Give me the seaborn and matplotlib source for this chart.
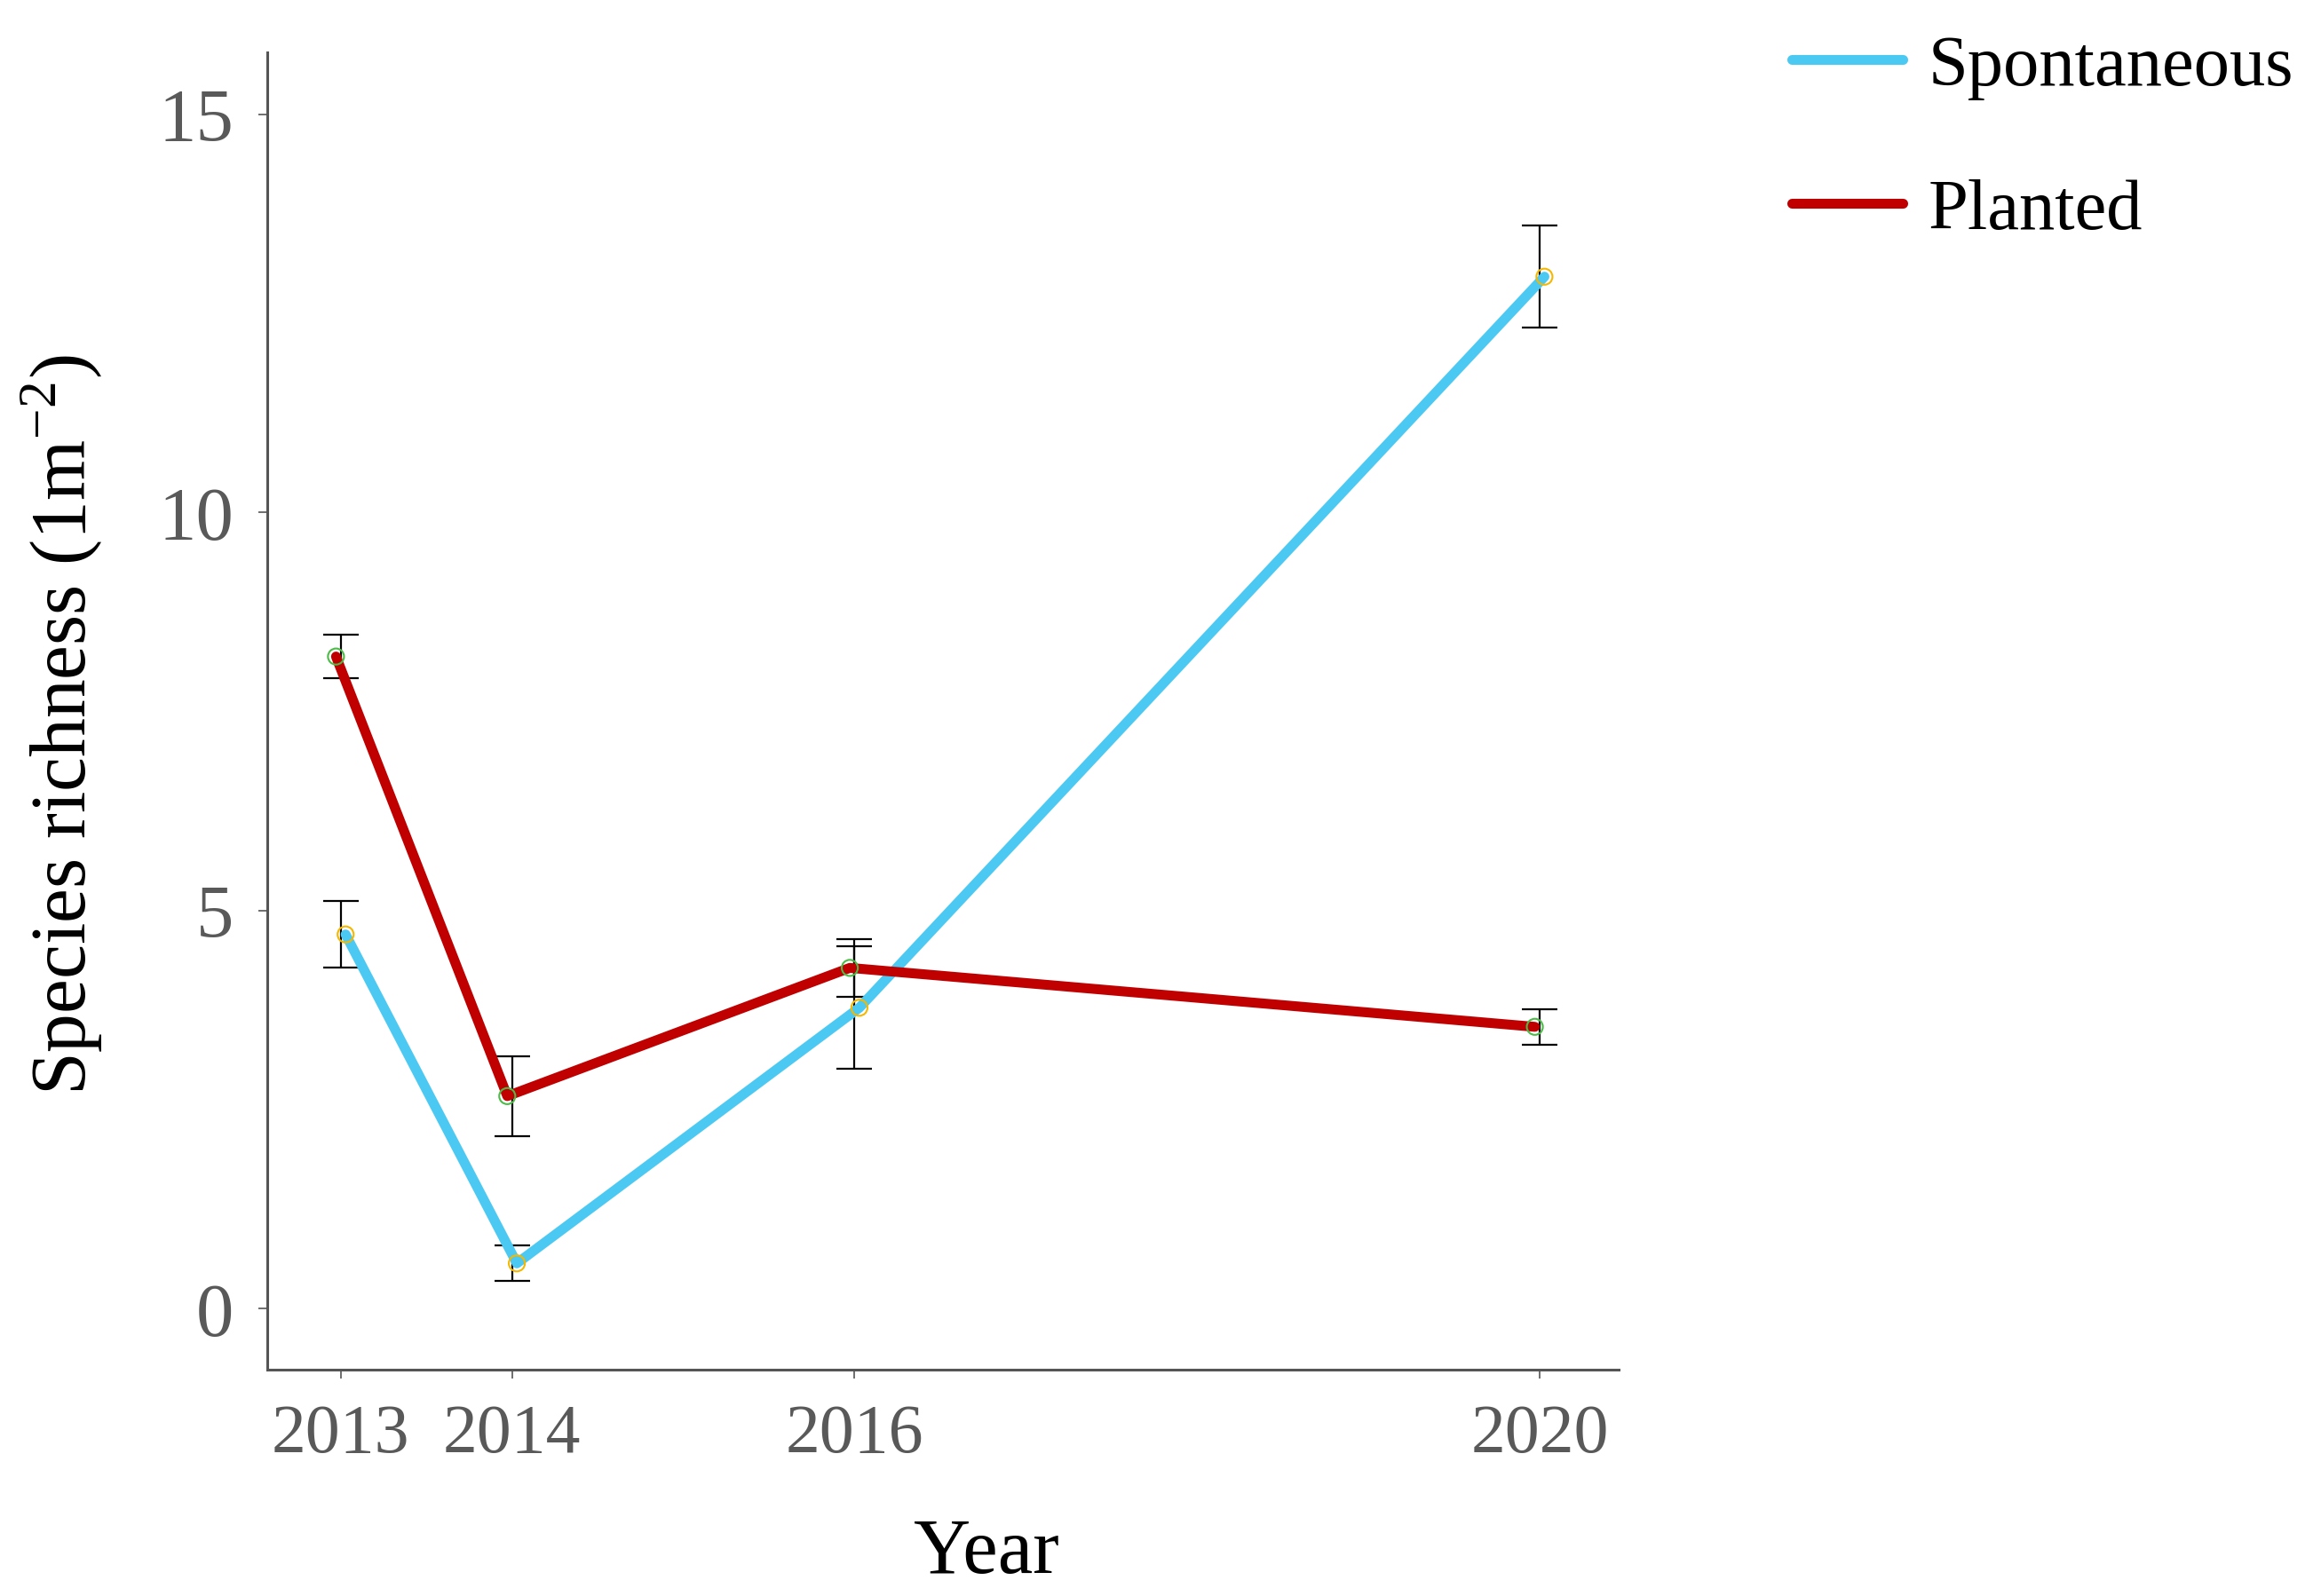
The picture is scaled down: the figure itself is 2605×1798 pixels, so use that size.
import matplotlib
matplotlib.use("Agg")
import matplotlib.pyplot as plt
import seaborn as sns
import numpy as np
import pandas as pd

# ---- data ----
years = [2013, 2014, 2016, 2020]
series_names = ["Spontaneous", "Planted"]
spont_mean = [4.70, 0.57, 3.78, 12.96]
spont_err = [0.42, 0.22, 0.77, 0.64]
planted_mean = [8.19, 2.67, 4.28, 3.54]
planted_err = [0.27, 0.50, 0.36, 0.22]
y_ticks = [0, 5, 10, 15]

sns.set_theme(style="white")
plt.rcParams["font.family"] = ["Liberation Serif", "DejaVu Serif"]
plt.rcParams["mathtext.fontset"] = "custom"
plt.rcParams["mathtext.rm"] = "Liberation Serif"

fig = plt.figure(figsize=(26.05, 17.99), dpi=100)
ax = fig.add_axes([0.1155, 0.142, 0.5842, 0.8248])

colors = {"Spontaneous": "#4CC9F2", "Planted": "#C00000"}
edge = {"Spontaneous": "#F5B800", "Planted": "#4CBB47"}
dodge = {"Spontaneous": 0.028, "Planted": -0.028}
means = {"Spontaneous": spont_mean, "Planted": planted_mean}
errs = {"Spontaneous": spont_err, "Planted": planted_err}

rows = []
for s in series_names:
    for yr, m, e in zip(years, means[s], errs[s]):
        rows.append({"Year": yr, "x": yr + dodge[s], "Mean": m, "Err": e, "Series": s})
df = pd.DataFrame(rows)

# error bars at exact years
for s in series_names:
    d = df[df.Series == s]
    ax.errorbar(d["Year"], d["Mean"], yerr=d["Err"], fmt="none", ecolor="black",
                elinewidth=1.6, capsize=14.5, capthick=1.6, zorder=2)

for s in series_names:
    d = df[df.Series == s]
    sns.lineplot(data=d, x="x", y="Mean", ax=ax, color=colors[s], linewidth=8.0,
                 sort=False, label=s, zorder=3)
    sns.scatterplot(data=d, x="x", y="Mean", ax=ax, s=170, facecolor="none",
                    edgecolor=edge[s], linewidth=1.5, zorder=4, legend=False)

ax.set_xlim(2012.57, 2020.46)
ax.set_ylim(-0.76, 15.78)
ax.set_xticks(years)
ax.set_xticklabels([str(y) for y in years])
ax.set_yticks(y_ticks)
ax.set_yticklabels([str(t) for t in y_ticks])

for sp in ["top", "right"]:
    ax.spines[sp].set_visible(False)
for sp in ["left", "bottom"]:
    ax.spines[sp].set_color("#555555")
    ax.spines[sp].set_linewidth(2.2)

ax.tick_params(axis="both", which="major", direction="out", length=7, width=1.2,
               color="#555555", labelcolor="#595959", bottom=True, left=True)
ax.tick_params(axis="x", labelsize=56, pad=20)
ax.tick_params(axis="y", labelsize=61, pad=20)

ax.set_xlabel("Year", fontsize=64, color="black")
ax.xaxis.set_label_coords(0.532, -0.112)
ax.set_ylabel("Species richness (1m$^{-2}$)", fontsize=63, color="black")
ax.yaxis.set_label_coords(-0.12, 0.49)

ax.get_legend().remove()
handles, labels = ax.get_legend_handles_labels()
leg = fig.legend(handles, labels, loc="upper left", bbox_to_anchor=(0.7747, 0.978),
                 frameon=False, fontsize=58, handlelength=1.55, handletextpad=0.35,
                 labelspacing=1.1, borderaxespad=0, borderpad=0)
for t in leg.get_texts():
    t.set_color("black")

fig.savefig("out.png", dpi=100, facecolor="white")
